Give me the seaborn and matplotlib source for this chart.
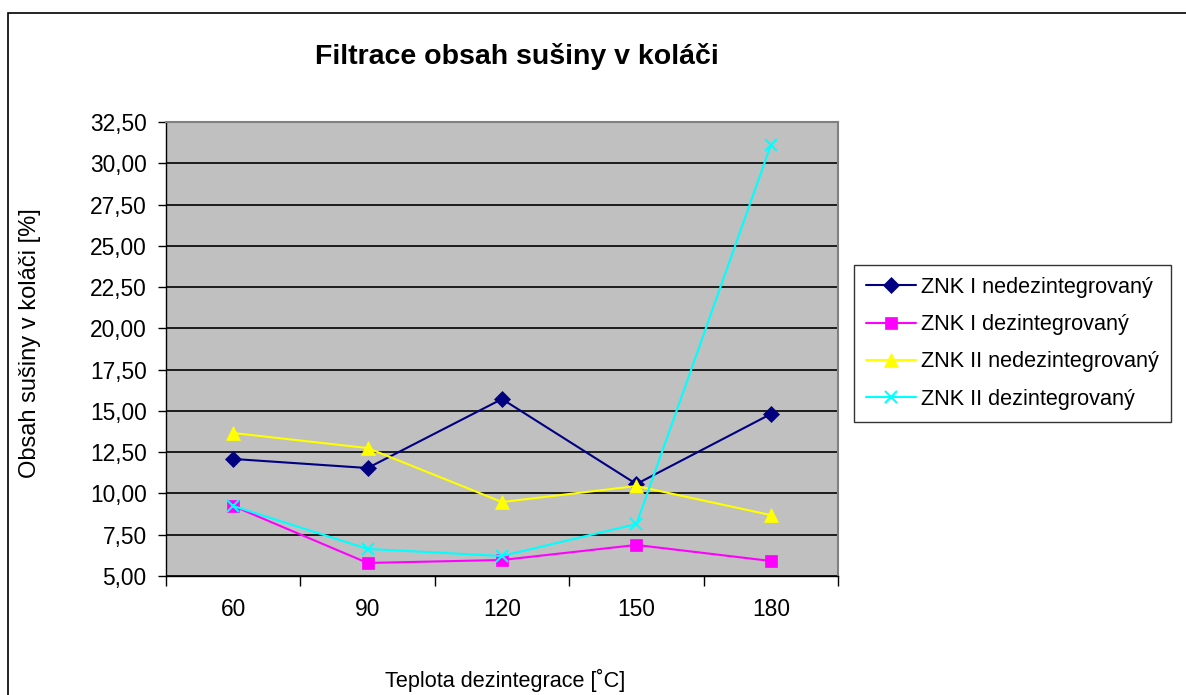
import matplotlib
matplotlib.use("Agg")
import matplotlib.pyplot as plt
import seaborn as sns
import pandas as pd
from matplotlib.patches import Rectangle
from matplotlib.ticker import FixedLocator, FuncFormatter

categories = ["60", "90", "120", "150", "180"]
znk1_nedez = [12.09, 11.54, 15.72, 10.57, 14.81]
znk1_dez = [9.24, 5.79, 5.97, 6.88, 5.91]
znk2_nedez = [13.66, 12.75, 9.48, 10.45, 8.69]
znk2_dez = [9.24, 6.64, 6.21, 8.15, 31.10]
series_names = ["ZNK I nedezintegrovaný", "ZNK I dezintegrovaný",
                "ZNK II nedezintegrovaný", "ZNK II dezintegrovaný"]
y_ticks = [5.0, 7.5, 10.0, 12.5, 15.0, 17.5, 20.0, 22.5, 25.0, 27.5, 30.0, 32.5]

sns.set_theme(style="white")
plt.rcParams['font.family'] = ['Liberation Sans', 'DejaVu Sans']
plt.rcParams['text.color'] = 'black'
plt.rcParams['xtick.color'] = 'black'
plt.rcParams['ytick.color'] = 'black'
plt.rcParams['axes.labelcolor'] = 'black'

fig = plt.figure(figsize=(11.86, 6.95), dpi=100)
ax = fig.add_axes([166/1186, 1-576/695, (838-166)/1186, (576-122)/695])
ax.set_facecolor("#c0c0c0")

pos = list(range(len(categories)))
rows = []
for name, vals in zip(series_names, [znk1_nedez, znk1_dez, znk2_nedez, znk2_dez]):
    for p, v in zip(pos, vals):
        rows.append({"x": p, "y": v, "series": name})
df = pd.DataFrame(rows)

colors = ["#000080", "#ff00ff", "#ffff00", "#00ffff"]
markers = ["D", "s", "^", "x"]
msizes = [8, 8, 10, 9]
for name, c, m, ms in zip(series_names, colors, markers, msizes):
    sub = df[df.series == name]
    sns.lineplot(data=sub, x="x", y="y", ax=ax, color=c, marker=m, markersize=ms,
                 markeredgecolor=c, markerfacecolor=c, markeredgewidth=1.5 if m == "x" else 0.5,
                 linewidth=1.5, label=name, zorder=3)

ax.set_xlim(-0.5, len(categories) - 0.5)
ax.set_ylim(5, 32.5)
ax.set_yticks(y_ticks)
ax.yaxis.set_major_formatter(FuncFormatter(lambda v, p: f"{v:.2f}".replace(".", ",")))
ax.yaxis.grid(True, color="black", linewidth=1.2)
ax.set_axisbelow(True)

ax.xaxis.set_major_locator(FixedLocator([i - 0.5 for i in range(len(categories) + 1)]))
ax.xaxis.set_minor_locator(FixedLocator(pos))
ax.set_xticklabels([])
ax.set_xticks(pos, minor=True)
ax.set_xticklabels(categories, minor=True)
ax.tick_params(axis="x", which="major", direction="out", length=7, width=1, color="black", bottom=True)
ax.tick_params(axis="x", which="minor", length=0, pad=16, labelsize=16.4)
ax.tick_params(axis="y", direction="out", length=6, width=1, color="black", left=True, labelsize=16.4, pad=8)

for s in ["left", "bottom"]:
    ax.spines[s].set_color("black")
    ax.spines[s].set_linewidth(1)
for s in ["top", "right"]:
    ax.spines[s].set_color("#808080")
    ax.spines[s].set_linewidth(1.5)

ax.set_xlabel("")
ax.set_ylabel("")
fig.text(505/1186, 1-680/695, "Teplota dezintegrace [˚C]", ha="center", va="center", fontsize=15.6)
fig.text(30/1186, 1-343/695, "Obsah sušiny v koláči [%]", ha="center", va="center",
         rotation=90, fontsize=17)
fig.text(517/1186, 1-57/695, "Filtrace obsah sušiny v koláči", ha="center", va="center",
         fontsize=20.5, fontweight="bold")

leg = ax.legend(loc="upper left", bbox_to_anchor=(854/1186, 1-265/695),
                bbox_transform=fig.transFigure, frameon=True, fancybox=False,
                fontsize=15.6, handlelength=2.3, labelspacing=0.75, borderpad=0.55,
                handletextpad=0.25, borderaxespad=0)
leg.get_frame().set_edgecolor("black")
leg.get_frame().set_linewidth(1)

fig.patches.append(Rectangle((8/1186, -0.1), 1.2, 1 - 13/695 + 0.1, transform=fig.transFigure,
                             fill=False, edgecolor="black", linewidth=1.2))

fig.savefig("out.png", dpi=100)
